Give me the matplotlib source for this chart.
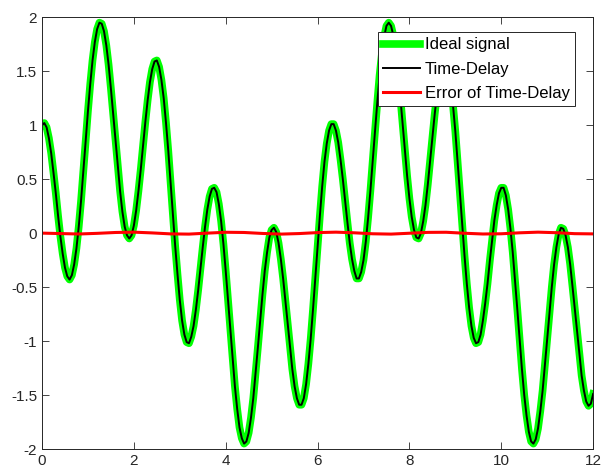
import numpy as np
import matplotlib.pyplot as plt

plt.rcParams['font.family'] = ['Liberation Sans', 'DejaVu Sans']

# time axis (s) and signal values, every 0.05 s
t = np.arange(241) * 0.05
ideal = [1.00, 1.02, 0.98, 0.88, 0.74, 0.56, 0.37, 0.16, -0.03, -0.19,
         -0.32, -0.40, -0.43, -0.39, -0.29, -0.14, 0.06, 0.30, 0.57, 0.85,
         1.13, 1.38, 1.60, 1.77, 1.89, 1.95, 1.94, 1.87, 1.74, 1.56,
         1.34, 1.10, 0.85, 0.61, 0.39, 0.20, 0.06, -0.02, -0.05, -0.02,
         0.07, 0.21, 0.39, 0.59, 0.81, 1.03, 1.23, 1.40, 1.52, 1.59,
         1.60, 1.54, 1.42, 1.25, 1.02, 0.76, 0.47, 0.17, -0.12, -0.38,
         -0.62, -0.81, -0.94, -1.01, -1.02, -0.96, -0.86, -0.71, -0.53, -0.33,
         -0.13, 0.06, 0.22, 0.34, 0.41, 0.42, 0.38, 0.27, 0.11, -0.10,
         -0.35, -0.62, -0.90, -1.17, -1.42, -1.63, -1.80, -1.90, -1.95, -1.93,
         -1.85, -1.71, -1.53, -1.30, -1.06, -0.81, -0.57, -0.35, -0.18, -0.04,
         0.03, 0.05, 0.01, -0.09, -0.24, -0.42, -0.63, -0.85, -1.06, -1.26,
         -1.42, -1.53, -1.59, -1.59, -1.53, -1.40, -1.21, -0.98, -0.71, -0.42,
         -0.13, 0.16, 0.43, 0.66, 0.83, 0.95, 1.01, 1.01, 0.95, 0.84,
         0.68, 0.50, 0.30, 0.10, -0.09, -0.24, -0.35, -0.42, -0.42, -0.36,
         -0.25, -0.08, 0.14, 0.39, 0.67, 0.94, 1.21, 1.46, 1.66, 1.82,
         1.92, 1.95, 1.92, 1.83, 1.68, 1.49, 1.27, 1.02, 0.77, 0.53,
         0.32, 0.15, 0.03, -0.04, -0.05, 0.00, 0.11, 0.26, 0.45, 0.67,
         0.89, 1.10, 1.29, 1.44, 1.55, 1.60, 1.58, 1.51, 1.37, 1.18,
         0.94, 0.66, 0.37, 0.08, -0.21, -0.47, -0.69, -0.86, -0.97, -1.02,
         -1.01, -0.94, -0.81, -0.65, -0.47, -0.26, -0.07, 0.12, 0.26, 0.37,
         0.42, 0.42, 0.35, 0.22, 0.04, -0.18, -0.44, -0.71, -0.99, -1.26,
         -1.50, -1.69, -1.84, -1.93, -1.95, -1.91, -1.81, -1.65, -1.46, -1.22,
         -0.98, -0.73, -0.50, -0.29, -0.13, -0.01, 0.05, 0.04, -0.02, -0.13,
         -0.29, -0.49, -0.70, -0.92, -1.13, -1.32, -1.46, -1.56, -1.60, -1.58,
         -1.49]
delayed = ideal

t_err = np.arange(31) * 0.4
error = [0.0, -0.004, -0.008, -0.002, 0.006, 0.009, 0.002, -0.007, -0.009, 0.0,
         0.008, 0.006, -0.003, -0.009, -0.004, 0.005, 0.009, 0.003, -0.006, -0.009,
         -0.001, 0.007, 0.008, -0.001, -0.008, -0.006, 0.003, 0.009, 0.004, -0.005,
         -0.007]

fig = plt.figure(figsize=(6.01, 4.75), dpi=100)
ax = fig.add_axes([0.0699, 0.0547, 0.917, 0.909])

ax.plot(t, ideal, color='#00ff00', lw=5.5, label='Ideal signal')
ax.plot(t, delayed, color='black', lw=1.4, label='Time-Delay')
ax.plot(t_err, error, color='red', lw=2.2, label='Error of Time-Delay')

ax.set_xlim(0, 12)
ax.set_ylim(-2, 2)
ax.set_xticks(np.arange(0, 13, 2))
ax.set_yticks(np.arange(-2, 2.01, 0.5))
ax.set_yticklabels(['-2', '-1.5', '-1', '-0.5', '0', '0.5', '1', '1.5', '2'])
ax.tick_params(direction='in', top=True, right=True, labelsize=11,
               length=5, width=0.6, colors='#262626')
for s in ax.spines.values():
    s.set_color('#262626')
    s.set_linewidth(0.7)

leg = ax.legend(loc='upper right', bbox_to_anchor=(0.967, 0.965), fontsize=12,
                fancybox=False, framealpha=1, edgecolor='#262626',
                borderpad=0.3, labelspacing=0.55, handlelength=2.2,
                handletextpad=0.3, borderaxespad=0)
leg.get_frame().set_linewidth(0.7)

fig.savefig('out.png', dpi=100)
